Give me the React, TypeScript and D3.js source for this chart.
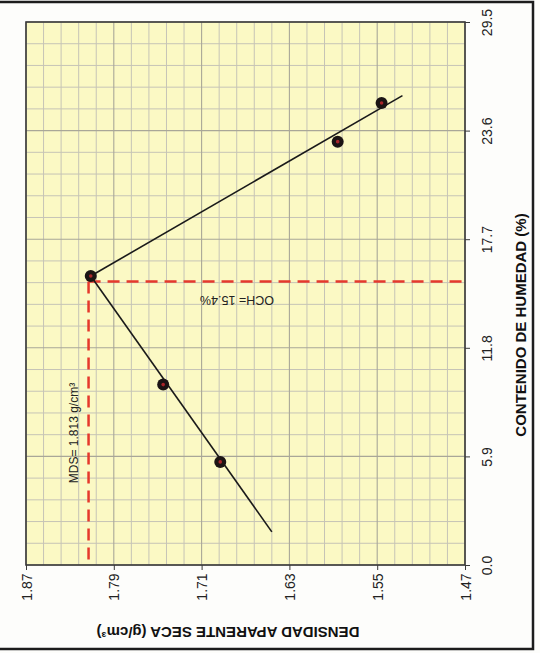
import React, { useEffect, useRef } from "react";
import * as d3 from "d3";

// eje de humedad (vertical, a la derecha) y eje de densidad (horizontal, abajo)
const moistureTicks = [0.0, 5.9, 11.8, 17.7, 23.6, 29.5];
const densityTicks = [1.87, 1.79, 1.71, 1.63, 1.55, 1.47];

// puntos del ensayo proctor
const moisture = [5.6, 9.8, 15.7, 23.0, 25.1];
const density = [1.693, 1.745, 1.811, 1.586, 1.546];

// rectas de ajuste: rama seca y rama humeda
const dryBranch: [number, number][] = [
  [1.8, 1.646],
  [15.7, 1.811],
];
const wetBranch: [number, number][] = [
  [15.7, 1.811],
  [25.5, 1.527],
];

const och = 15.4;
const mds = 1.813;

const moistureTitle = "CONTENIDO DE HUMEDAD (%)";
const densityTitle = "DENSIDAD APARENTE SECA (g/cm³)";
const ochLabel = "OCH= 15.4%";
const mdsLabel = "MDS= 1.813 g/cm³";

const FONT = "'Liberation Sans', Arial, sans-serif";

// subdivide each tick interval in 5
const subdivide = (ticks: number[]) => {
  const out: number[] = [];
  for (let i = 0; i < ticks.length - 1; i++) {
    const a = ticks[i];
    const b = ticks[i + 1];
    for (let k = 1; k < 5; k++) out.push(a + ((b - a) * k) / 5);
  }
  return out;
};

const App = () => {
  const ref = useRef<SVGSVGElement>(null);

  useEffect(() => {
    const width = 540;
    const height = 653;
    const plot = { left: 26, right: 465, top: 22, bottom: 565 };

    const svg = d3.select(ref.current);
    svg.selectAll("*").remove();

    const x = d3
      .scaleLinear()
      .domain([densityTicks[0], densityTicks[densityTicks.length - 1]])
      .range([plot.left, plot.right]);

    const y = d3
      .scaleLinear()
      .domain([moistureTicks[0], moistureTicks[moistureTicks.length - 1]])
      .range([plot.bottom, plot.top]);

    svg.append("rect").attr("width", width).attr("height", height).attr("fill", "#fdfdfb");

    // marco exterior
    svg
      .append("path")
      .attr("d", `M0,2 H533 V649 H0`)
      .attr("fill", "none")
      .attr("stroke", "#1c1c1c")
      .attr("stroke-width", 2.5);

    svg
      .append("rect")
      .attr("x", plot.left)
      .attr("y", plot.top)
      .attr("width", plot.right - plot.left)
      .attr("height", plot.bottom - plot.top)
      .attr("fill", "#fbf9c4");

    const grid = svg.append("g");
    grid
      .selectAll("line.hm")
      .data(subdivide(moistureTicks))
      .join("line")
      .attr("x1", plot.left)
      .attr("x2", plot.right)
      .attr("y1", (d) => y(d))
      .attr("y2", (d) => y(d))
      .attr("stroke", "#c6c4b6")
      .attr("stroke-width", 1);
    grid
      .selectAll("line.vm")
      .data(subdivide(densityTicks))
      .join("line")
      .attr("y1", plot.top)
      .attr("y2", plot.bottom)
      .attr("x1", (d) => x(d))
      .attr("x2", (d) => x(d))
      .attr("stroke", "#c6c4b6")
      .attr("stroke-width", 1);
    grid
      .selectAll("line.hM")
      .data(moistureTicks)
      .join("line")
      .attr("x1", plot.left)
      .attr("x2", plot.right)
      .attr("y1", (d) => y(d))
      .attr("y2", (d) => y(d))
      .attr("stroke", "#a9a798")
      .attr("stroke-width", 1.1);
    grid
      .selectAll("line.vM")
      .data(densityTicks)
      .join("line")
      .attr("y1", plot.top)
      .attr("y2", plot.bottom)
      .attr("x1", (d) => x(d))
      .attr("x2", (d) => x(d))
      .attr("stroke", "#a9a798")
      .attr("stroke-width", 1.1);

    svg
      .append("rect")
      .attr("x", plot.left)
      .attr("y", plot.top)
      .attr("width", plot.right - plot.left)
      .attr("height", plot.bottom - plot.top)
      .attr("fill", "none")
      .attr("stroke", "#3a3a3a")
      .attr("stroke-width", 1.6);

    // ejes
    const right = svg
      .append("g")
      .attr("transform", `translate(${plot.right},0)`)
      .call(
        d3
          .axisRight(y)
          .tickValues(moistureTicks)
          .tickFormat(d3.format(".1f"))
          .tickSize(5)
          .tickSizeOuter(0)
      );
    right.select(".domain").remove();
    right.selectAll("line").attr("stroke", "#3a3a3a");
    right
      .selectAll("text")
      .attr("x", null)
      .attr("dy", null)
      .attr("transform", "translate(22,0) rotate(-90)")
      .attr("text-anchor", "middle")
      .attr("dominant-baseline", "central")
      .attr("font-family", FONT)
      .attr("font-size", 14)
      .attr("fill", "#222");

    const bottom = svg
      .append("g")
      .attr("transform", `translate(0,${plot.bottom})`)
      .call(
        d3
          .axisBottom(x)
          .tickValues(densityTicks)
          .tickFormat(d3.format(".2f"))
          .tickSize(5)
          .tickSizeOuter(0)
      );
    bottom.select(".domain").remove();
    bottom.selectAll("line").attr("stroke", "#3a3a3a");
    bottom
      .selectAll("text")
      .attr("y", null)
      .attr("dy", null)
      .attr("transform", "translate(0,22) rotate(-90)")
      .attr("text-anchor", "middle")
      .attr("dominant-baseline", "central")
      .attr("font-family", FONT)
      .attr("font-size", 14)
      .attr("fill", "#222");

    svg
      .append("text")
      .attr("transform", `translate(520,325) rotate(-90)`)
      .attr("text-anchor", "middle")
      .attr("dominant-baseline", "central")
      .attr("font-family", FONT)
      .attr("font-size", 15)
      .attr("font-weight", "bold")
      .attr("fill", "#111")
      .text(moistureTitle);

    svg
      .append("text")
      .attr("transform", `translate(228,632) rotate(180)`)
      .attr("text-anchor", "middle")
      .attr("dominant-baseline", "central")
      .attr("font-family", FONT)
      .attr("font-size", 15)
      .attr("font-weight", "bold")
      .attr("fill", "#111")
      .text(densityTitle);

    // lineas OCH / MDS
    const dash = svg.append("g").attr("stroke", "#e5392c").attr("stroke-width", 2.5).attr("stroke-dasharray", "12 7");
    dash
      .append("line")
      .attr("x1", x(mds))
      .attr("x2", plot.right)
      .attr("y1", y(och))
      .attr("y2", y(och));
    dash
      .append("line")
      .attr("x1", x(mds))
      .attr("x2", x(mds))
      .attr("y1", y(och))
      .attr("y2", plot.bottom);

    svg
      .append("text")
      .attr("transform", `translate(237,300) rotate(180)`)
      .attr("text-anchor", "middle")
      .attr("dominant-baseline", "central")
      .attr("font-family", FONT)
      .attr("font-size", 12.5)
      .attr("fill", "#222")
      .text(ochLabel);

    svg
      .append("text")
      .attr("transform", `translate(74,433) rotate(-90)`)
      .attr("text-anchor", "middle")
      .attr("dominant-baseline", "central")
      .attr("font-family", FONT)
      .attr("font-size", 12)
      .attr("fill", "#222")
      .text(mdsLabel);

    // rectas de ajuste
    const line = d3
      .line<[number, number]>()
      .x((d) => x(d[1]))
      .y((d) => y(d[0]));
    [dryBranch, wetBranch].forEach((b) => {
      svg
        .append("path")
        .attr("d", line(b))
        .attr("fill", "none")
        .attr("stroke", "#1a1a1a")
        .attr("stroke-width", 1.6);
    });

    const pts = moisture.map((m, i) => ({ m, d: density[i] }));
    svg
      .selectAll("circle.pt")
      .data(pts)
      .join("circle")
      .attr("cx", (p) => x(p.d))
      .attr("cy", (p) => y(p.m))
      .attr("r", 6)
      .attr("fill", "#1b1414");
    svg
      .selectAll("circle.in")
      .data(pts)
      .join("circle")
      .attr("cx", (p) => x(p.d))
      .attr("cy", (p) => y(p.m))
      .attr("r", 1.8)
      .attr("fill", "#a8252a");
  }, []);

  return (
    <svg
      ref={ref}
      width={540}
      height={653}
      style={{ position: "absolute", left: 0, top: 0, display: "block" }}
    />
  );
};

export default App;
